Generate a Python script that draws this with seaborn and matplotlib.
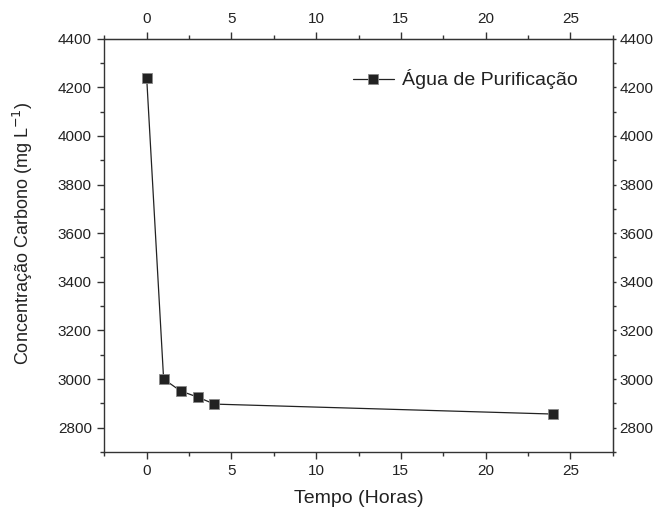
import pandas as pd
import matplotlib.pyplot as plt
import seaborn as sns
from matplotlib.ticker import FixedLocator

# dados
tempo = [0, 1, 2, 3, 4, 24]
carbono = [4240, 3000, 2951, 2926, 2897, 2856]
serie = 'Água de Purificação'

x_major = [0, 5, 10, 15, 20, 25]
x_minor = [-2.5, 2.5, 7.5, 12.5, 17.5, 22.5, 27.5]
y_major = [2800, 3000, 3200, 3400, 3600, 3800, 4000, 4200, 4400]
y_minor = [2700, 2900, 3100, 3300, 3500, 3700, 3900, 4100, 4300]

df = pd.DataFrame({'Tempo': tempo, 'Carbono': carbono, 'serie': serie})

sns.set_style('ticks')
plt.rcParams['font.family'] = ['Liberation Sans', 'DejaVu Sans']

INK = '#222222'
AXC = '#333333'

fig, ax = plt.subplots(figsize=(6.56, 5.09), dpi=100)
fig.subplots_adjust(left=0.159, right=0.934, top=0.924, bottom=0.112)

sns.lineplot(data=df, x='Tempo', y='Carbono', hue='serie', palette=[INK],
             marker='s', markersize=6.5, markeredgecolor='#888888',
             markeredgewidth=0.6, linewidth=0.9, ax=ax)

ax.set_xlim(-2.5, 27.5)
ax.set_ylim(2700, 4400)

for s in ax.spines.values():
    s.set_visible(True)
    s.set_color(AXC)
    s.set_linewidth(1.0)

# eixos espelhados (topo e direita) com rótulos
top = ax.secondary_xaxis('top')
right = ax.secondary_yaxis('right')

for a in (ax.xaxis, top.xaxis):
    a.set_major_locator(FixedLocator(x_major))
    a.set_minor_locator(FixedLocator(x_minor))
for a in (ax.yaxis, right.yaxis):
    a.set_major_locator(FixedLocator(y_major))
    a.set_minor_locator(FixedLocator(y_minor))

for a in (ax, top, right):
    a.tick_params(which='both', direction='out', colors=AXC,
                  labelcolor=INK, labelsize=11)
    a.tick_params(which='major', length=5, width=1.0, pad=4)
    a.tick_params(which='minor', length=3, width=1.0)
right.tick_params(which='major', length=2, pad=3)
right.tick_params(which='minor', length=2)
for s in list(top.spines.values()) + list(right.spines.values()):
    s.set_color(AXC)

ax.set_xlabel('Tempo (Horas)', fontsize=14, color=INK, labelpad=8)
ax.set_ylabel('Concentração Carbono (mg L$^{-1}$)', fontsize=13, color=INK)
ax.yaxis.set_label_coords(-0.137, 0.53)

leg = ax.legend(loc='upper right', bbox_to_anchor=(0.965, 0.968), frameon=False,
                fontsize=14, handlelength=2.1, handletextpad=0.4)
for t in leg.get_texts():
    t.set_color(INK)

fig.savefig('out.png', dpi=100)
